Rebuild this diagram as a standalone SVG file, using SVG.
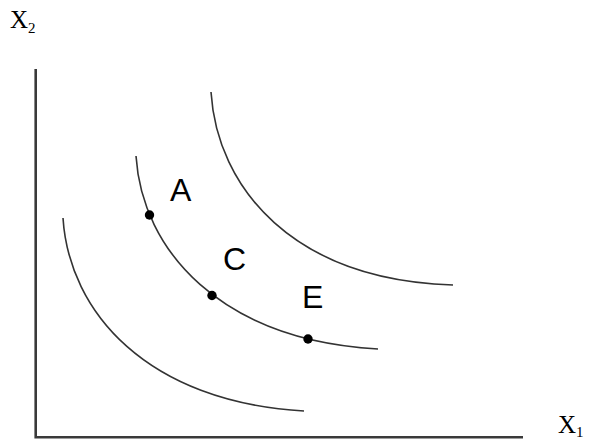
<svg xmlns="http://www.w3.org/2000/svg" width="589" height="439" viewBox="0 0 589 439">
<style>
.axis{stroke:#3a3a3a;stroke-width:2.6;fill:none}
.curve{stroke:#333;stroke-width:1.6;fill:none}
.dot{fill:#000}
.lbl{font-family:"Liberation Sans",Arial,sans-serif;font-size:32px;fill:#000}
.ax{font-family:"Liberation Serif","Times New Roman",serif;font-size:25px;fill:#000}
.sub{font-size:15px}
</style>
<rect width="589" height="439" fill="#fff"/>
<g id="axes">
<path class="axis" d="M35.7,69 V437.3 H523"/>
</g>
<g id="connectors">
<path id="curve-inner" class="curve" d="M63,218 C69,312 147,402 304,411"/>
<path id="curve-middle" class="curve" d="M136,156 C142,250 220,340 378,349"/>
<path id="curve-outer" class="curve" d="M211,92 C217,188 293,280 453,285"/>
</g>
<g id="node-A"><circle class="dot" cx="149.5" cy="215" r="4.7"/><text class="lbl" x="170" y="201">A</text></g>
<g id="node-C"><circle class="dot" cx="212" cy="295.5" r="4.7"/><text class="lbl" x="223" y="270">C</text></g>
<g id="node-E"><circle class="dot" cx="308" cy="339" r="4.7"/><text class="lbl" x="302" y="308">E</text></g>
<g id="label-x2"><text class="ax" x="10" y="28">X<tspan class="sub" dy="5">2</tspan></text></g>
<g id="label-x1"><text class="ax" x="558" y="433">X<tspan class="sub" dy="4">1</tspan></text></g>
</svg>
